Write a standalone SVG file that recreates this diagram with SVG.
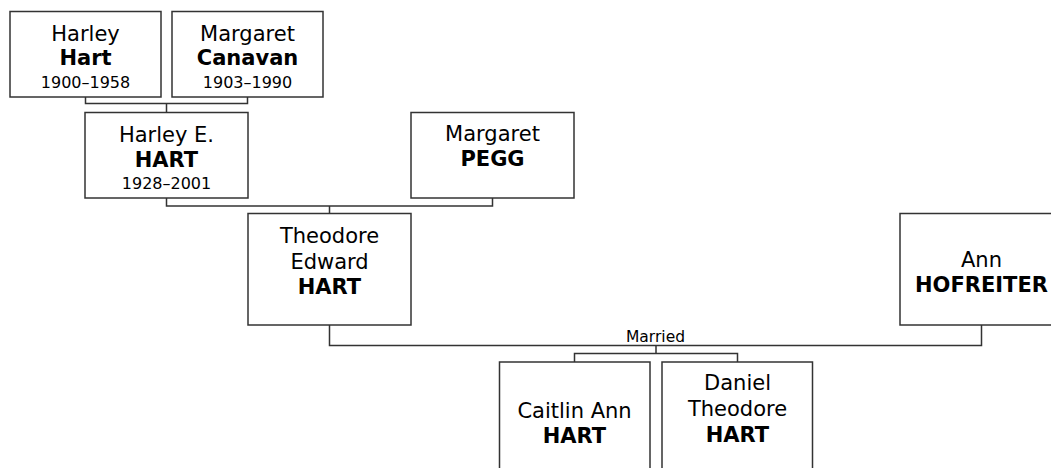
<svg xmlns="http://www.w3.org/2000/svg" width="1051" height="468" viewBox="0 0 1051 468">
<style>
.box{fill:#fff;stroke:#333;stroke-width:1.5}
.ln{fill:none;stroke:#333;stroke-width:1.5}
text{font-family:"DejaVu Sans",Verdana,sans-serif;fill:#000;text-anchor:middle}
.n{font-size:21px}
.b{font-size:21px;font-weight:bold}
.d{font-size:16px}
.m{font-size:15.5px}
</style>
<rect width="1051" height="468" fill="#fff"/>
<g id="connectors">
<path class="ln" d="M85.5 97V103.5H247.5V97M166.5 103.5V112"/>
<path class="ln" d="M166.5 198V206H492.5V198M329.5 206V213"/>
<path class="ln" d="M329.5 325V345.5H981.5V325"/>
<path class="ln" d="M656 345.5V353.5M574.5 362V353.5H737.5V362"/>
<text class="m" x="655.5" y="342">Married</text>
</g>
<g id="harley-hart">
<rect class="box" x="10" y="11.5" width="151" height="85.5"/>
<text class="n" x="85.5" y="40.5">Harley</text>
<text class="b" x="85.5" y="65">Hart</text>
<text class="d" x="85.5" y="87.5">1900–1958</text>
</g>
<g id="margaret-canavan">
<rect class="box" x="172" y="11.5" width="151" height="85.5"/>
<text class="n" x="247.5" y="40.5">Margaret</text>
<text class="b" x="247.5" y="65">Canavan</text>
<text class="d" x="247.5" y="87.5">1903–1990</text>
</g>
<g id="harley-e-hart">
<rect class="box" x="85" y="112.5" width="163" height="85.5"/>
<text class="n" x="166.5" y="141.5">Harley E.</text>
<text class="b" x="166.5" y="167">HART</text>
<text class="d" x="166.5" y="188.5">1928–2001</text>
</g>
<g id="margaret-pegg">
<rect class="box" x="411" y="112.5" width="163" height="85.5"/>
<text class="n" x="492.5" y="140.5">Margaret</text>
<text class="b" x="492.5" y="166">PEGG</text>
</g>
<g id="theodore-edward-hart">
<rect class="box" x="248" y="213.5" width="163" height="111.5"/>
<text class="n" x="329.5" y="243">Theodore</text>
<text class="n" x="329.5" y="268.5">Edward</text>
<text class="b" x="329.5" y="294">HART</text>
</g>
<g id="ann-hofreiter">
<rect class="box" x="900" y="213.5" width="163" height="111.5"/>
<text class="n" x="981.5" y="266.5">Ann</text>
<text class="b" x="981.5" y="291.5">HOFREITER</text>
</g>
<g id="caitlin-ann-hart">
<rect class="box" x="499.5" y="362" width="150.5" height="112"/>
<text class="n" x="574.5" y="418">Caitlin Ann</text>
<text class="b" x="574.5" y="442.5">HART</text>
</g>
<g id="daniel-theodore-hart">
<rect class="box" x="662" y="362" width="150.5" height="112"/>
<text class="n" x="737.5" y="389.5">Daniel</text>
<text class="n" x="737.5" y="416">Theodore</text>
<text class="b" x="737.5" y="442">HART</text>
</g>
</svg>
